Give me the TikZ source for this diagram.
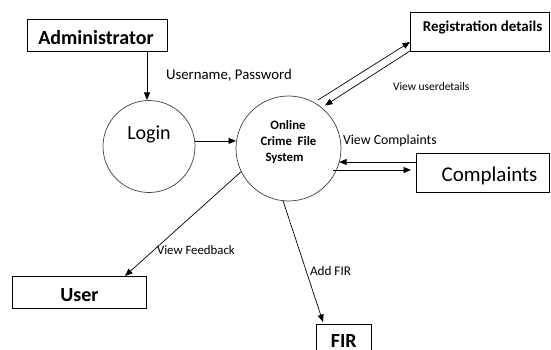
\documentclass[tikz,border=0pt]{standalone}
\usepackage{fontspec}
\setmainfont{Carlito}
\usetikzlibrary{calc,arrows.meta}
\tikzset{
  ent/.style={draw=black, line width=0.7pt, inner sep=0pt, outer sep=0pt},
  proc/.style={draw=black!75, line width=0.7pt, circle, inner sep=0pt, outer sep=0pt},
  arr/.style={draw=black, line width=0.7pt, -{Triangle[length=7.5pt,width=6pt]}},
  txt/.style={anchor=base, inner sep=0pt, outer sep=0pt},
  lbl/.style={anchor=base west, inner sep=0pt, outer sep=0pt},
  big/.style={font=\fontsize{20}{24}\selectfont},
  bigb/.style={font=\bfseries\fontsize{20}{24}\selectfont},
  sysf/.style={font=\bfseries\fontsize{12.8}{15}\selectfont},
}
\begin{document}
\begin{tikzpicture}[x=1pt,y=-1pt]
\clip (0,0) rectangle (551,350);
\fill[white] (0,0) rectangle (551,350);
% entities
\node[ent, minimum width=140pt, minimum height=32pt] (admin) at (97,35) {};
\node[txt, bigb] (admintxt) at (96,45) {Administrator};
\node[ent, minimum width=139pt, minimum height=39pt] (reg) at (479.5,31.5) {};
\node[txt, font=\bfseries\fontsize{15}{18}\selectfont] (regtxt) at (482.5,32) {Registration details};
\node[ent, minimum width=133pt, minimum height=39pt] (comp) at (482.5,172.5) {};
\node[txt, font=\fontsize{21}{25}\selectfont] (comptxt) at (489.5,181) {Complaints};
\node[ent, minimum width=134pt, minimum height=32pt] (user) at (79,292) {};
\node[txt, bigb] (usertxt) at (79.5,301.5) {User};
\node[ent, minimum width=55pt, minimum height=34pt] (fir) at (343.5,341) {};
\node[txt, bigb] (firtxt) at (343.8,347) {FIR};
% processes
\node[proc, minimum size=92pt] (login) at (149,146.5) {};
\node[txt, big] (logintxt) at (149,139.3) {Login};
\node[proc, minimum size=105pt] (sys) at (288.5,148.5) {};
\node[txt, sysf] (systxt1) at (288,129) {Online};
\node[txt, sysf] (systxt2) at (288.5,146) {Crime~~File};
\node[txt, sysf] (systxt3) at (284.5,161.7) {System};
% flows
\draw[arr] (admin.south -| 147,0) -- (147,100);
\draw[arr] (login.7) -- (login.7 -| sys.west);
\draw[arr] ($(sys.center)+(29.5,-48.5)$) -- ($(reg.south west)+(0,-9)$);
\draw[arr] (reg.south west) -- ($(sys.center)+(36.5,-43)$);
\draw[arr] ($(comp.west)+(0,-10.5)$) -- ($(sys.center)+(50.7,13.5)$);
\draw[arr] ($(sys.center)+(44.5,21.5)$) -- ($(comp.west)+(-5,-2.5)$);
\draw[arr] (sys.206.8) -- ($(user.north east)+(-21,0)$);
\draw[arr] (sys.264) -- ($(fir.north west)+(7,-2)$);
% labels
\node[lbl, font=\fontsize{14.8}{17}\selectfont] (l1) at (166,80) {Username, Password};
\node[lbl, font=\fontsize{11.5}{14}\selectfont] (l2) at (393,90.7) {View userdetails};
\node[lbl, font=\fontsize{13.8}{16}\selectfont] (l3) at (343,144) {View Complaints};
\node[lbl, font=\fontsize{12.8}{16}\selectfont] (l4) at (157,254.3) {View Feedback};
\node[lbl, font=\fontsize{13.2}{16}\selectfont] (l5) at (310,275) {Add FIR};
\end{tikzpicture}
\end{document}
